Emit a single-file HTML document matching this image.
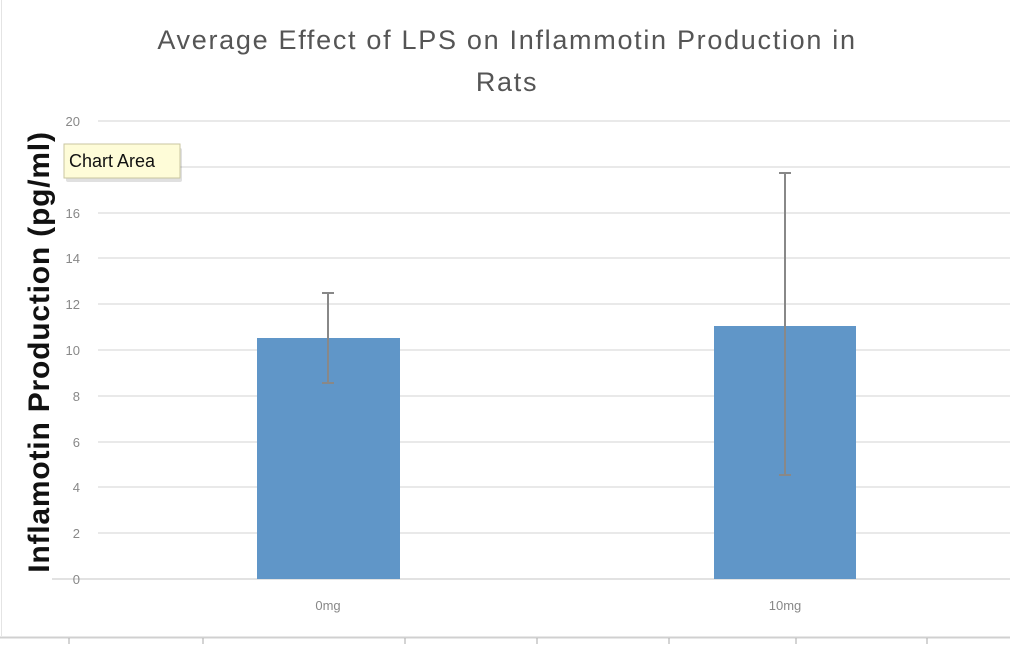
<!DOCTYPE html>
<html><head><style>
body{margin:0;width:1010px;height:644px;background:#fff;overflow:hidden;font-family:"Liberation Sans",sans-serif;}
</style></head><body>
<svg width="1010" height="644" xmlns="http://www.w3.org/2000/svg">
<rect width="1010" height="644" fill="#fff"/>
<line x1="1.5" y1="0" x2="1.5" y2="636" stroke="#e4e4e4"/>
<text x="507" y="49" text-anchor="middle" font-size="27" letter-spacing="1.7" fill="#555">Average Effect of LPS on Inflammotin Production in</text>
<text x="507" y="91" text-anchor="middle" font-size="27" letter-spacing="1.7" fill="#555">Rats</text>
<g stroke="#e2e2e2" stroke-width="1.5">
<line x1="98" y1="121" x2="1010" y2="121"/>
<line x1="98" y1="167" x2="1010" y2="167"/>
<line x1="98" y1="213" x2="1010" y2="213"/>
<line x1="98" y1="258" x2="1010" y2="258"/>
<line x1="98" y1="304" x2="1010" y2="304"/>
<line x1="98" y1="350" x2="1010" y2="350"/>
<line x1="98" y1="396" x2="1010" y2="396"/>
<line x1="98" y1="442" x2="1010" y2="442"/>
<line x1="98" y1="487" x2="1010" y2="487"/>
<line x1="98" y1="533" x2="1010" y2="533"/>
<line x1="52" y1="579" x2="1010" y2="579" stroke="#d8d8d8"/>
</g>
<g font-size="13" fill="#888" text-anchor="end">
<text x="80" y="126">20</text><text x="80" y="172">18</text><text x="80" y="218">16</text>
<text x="80" y="263">14</text><text x="80" y="309">12</text><text x="80" y="355">10</text>
<text x="80" y="401">8</text><text x="80" y="447">6</text><text x="80" y="492">4</text>
<text x="80" y="538">2</text><text x="80" y="584">0</text>
</g>
<text transform="translate(49,352) rotate(-90)" text-anchor="middle" font-size="30" font-weight="bold" letter-spacing="0.8" fill="#111">Inflamotin Production (pg/ml)</text>
<rect x="257" y="338" width="143" height="241" fill="#6096c8"/>
<rect x="714" y="326" width="142" height="253" fill="#6096c8"/>
<g stroke="#888" stroke-width="2">
<line x1="328" y1="293" x2="328" y2="383"/><line x1="322" y1="293" x2="334" y2="293"/><line x1="322" y1="383" x2="334" y2="383"/>
<line x1="785" y1="173" x2="785" y2="475"/><line x1="779" y1="173" x2="791" y2="173"/><line x1="779" y1="475" x2="791" y2="475"/>
</g>
<g font-size="13" fill="#888" text-anchor="middle">
<text x="328" y="610">0mg</text><text x="785" y="610">10mg</text>
</g>
<line x1="0" y1="637.5" x2="1010" y2="637.5" stroke="#d0d0d0" stroke-width="2"/>
<g stroke="#aaa"><line x1="69" y1="638" x2="69" y2="644"/><line x1="203" y1="638" x2="203" y2="644"/><line x1="405" y1="638" x2="405" y2="644"/><line x1="537" y1="638" x2="537" y2="644"/><line x1="669" y1="638" x2="669" y2="644"/><line x1="796" y1="638" x2="796" y2="644"/><line x1="927" y1="638" x2="927" y2="644"/></g>
<rect x="66" y="148" width="116" height="34" fill="#000" opacity="0.12" rx="2"/>
<rect x="64" y="144" width="116" height="34" fill="#fefcd8" stroke="#c9c6a0"/>
<text x="69" y="167" font-size="18" fill="#111">Chart Area</text>
</svg>
</body></html>
